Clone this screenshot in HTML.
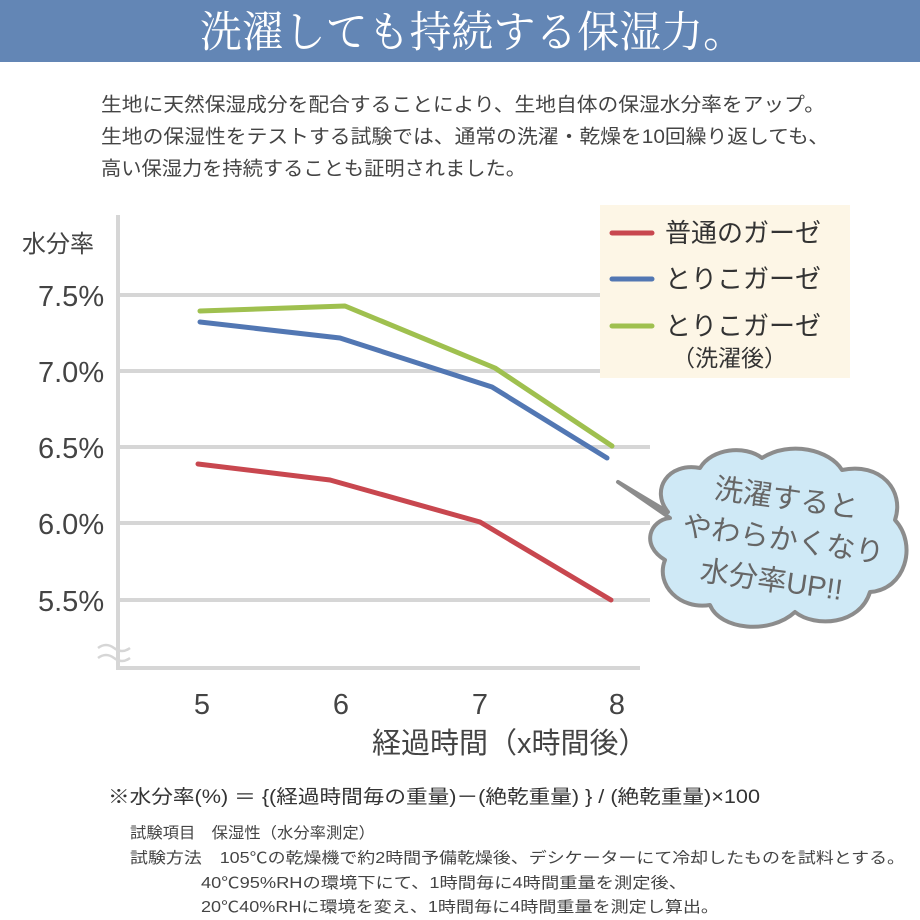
<!DOCTYPE html>
<html><head><meta charset="utf-8"><style>
body{margin:0;background:#fff;}
svg{display:block;font-family:"Liberation Sans","Noto Sans CJK JP",sans-serif;}
</style></head><body>
<svg width="920" height="920" viewBox="0 0 920 920" xmlns="http://www.w3.org/2000/svg">
<rect x="0" y="0" width="920" height="62" fill="#6386b5"/>
<text x="200" y="47" textLength="545" lengthAdjust="spacingAndGlyphs" font-family="'Liberation Serif','Noto Serif CJK SC',serif" font-size="43" fill="#fff">洗濯しても持続する保湿力。</text>
<g font-size="19.5" fill="#444">
<text x="101" y="111" textLength="724" lengthAdjust="spacingAndGlyphs">生地に天然保湿成分を配合することにより、生地自体の保湿水分率をアップ。</text>
<text x="101" y="143" textLength="728" lengthAdjust="spacingAndGlyphs">生地の保湿性をテストする試験では、通常の洗濯・乾燥を10回繰り返しても、</text>
<text x="101" y="175" textLength="425" lengthAdjust="spacingAndGlyphs">高い保湿力を持続することも証明されました。</text>
</g>
<g stroke="#d6d6d6" stroke-width="4" fill="none">
<line x1="118" y1="295" x2="650" y2="295"/>
<line x1="118" y1="371" x2="650" y2="371"/>
<line x1="118" y1="447" x2="650" y2="447"/>
<line x1="118" y1="523" x2="650" y2="523"/>
<line x1="118" y1="600" x2="650" y2="600"/>
<line x1="118" y1="215" x2="118" y2="668"/>
<line x1="116" y1="668" x2="640" y2="668"/>
<path d="M98 648 q8 -6 16 0 t16 0 M98 658 q8 -6 16 0 t16 0" stroke-width="2.5"/>
</g>
<g font-size="29" fill="#444">
<text x="22" y="252" font-size="24">水分率</text>
<text x="38" y="306">7.5%</text>
<text x="38" y="382">7.0%</text>
<text x="38" y="458">6.5%</text>
<text x="38" y="534">6.0%</text>
<text x="38" y="611">5.5%</text>
<text x="202" y="714" text-anchor="middle">5</text>
<text x="341" y="714" text-anchor="middle">6</text>
<text x="480" y="714" text-anchor="middle">7</text>
<text x="617" y="714" text-anchor="middle">8</text>
<text x="372" y="753" font-size="29">経過時間（x時間後）</text>
</g>
<g fill="none" stroke-width="5" stroke-linejoin="round" stroke-linecap="round">
<polyline points="198,464 330,480 480,522 611,600" stroke="#c8474f"/>
<polyline points="200,322 340,338 492,387 607,458" stroke="#5277b3"/>
<polyline points="200,311 345,306 495,368 612,446" stroke="#9fc04f"/>
</g>
<rect x="600" y="205" width="250" height="173" fill="#fdf6e6"/>
<g stroke-width="5" stroke-linecap="round">
<line x1="612" y1="233" x2="652" y2="233" stroke="#c8474f"/>
<line x1="612" y1="279" x2="652" y2="279" stroke="#5277b3"/>
<line x1="612" y1="326" x2="652" y2="326" stroke="#9fc04f"/>
</g>
<g font-size="26" fill="#333">
<text x="665" y="242">普通のガーゼ</text>
<text x="665" y="288">とりこガーゼ</text>
<text x="665" y="335">とりこガーゼ</text>
<text x="672" y="366" font-size="23">（洗濯後）</text>
</g>
<path d="M618 482 L668 512 C650 490 668 462 700 468 C712 448 745 445 762 458 C790 440 830 450 842 470 C880 462 905 490 895 520 C918 545 905 590 870 592 C860 625 815 628 795 612 C770 635 720 630 710 605 C680 610 655 585 665 560 C640 545 650 520 670 518 Z" fill="#cfe9f6" stroke="#8c8c8c" stroke-width="4" stroke-linejoin="round"/>
<g font-size="29" fill="#666" text-anchor="middle">
<text x="785" y="508" transform="rotate(8 785 508)">洗濯すると</text>
<text x="782" y="549" transform="rotate(8 782 549)">やわらかくなり</text>
<text x="770" y="590" transform="rotate(8 770 590)">水分率UP!!</text>
</g>
<text x="108" y="803" font-size="19" fill="#333" textLength="652" lengthAdjust="spacingAndGlyphs">※水分率(%) ＝ {(経過時間毎の重量)－(絶乾重量) } / (絶乾重量)×100</text>
<g font-size="15.5" fill="#444">
<text x="130" y="838" textLength="245" lengthAdjust="spacingAndGlyphs">試験項目　保湿性（水分率測定）</text>
<text x="130" y="863" textLength="775" lengthAdjust="spacingAndGlyphs">試験方法　105℃の乾燥機で約2時間予備乾燥後、デシケーターにて冷却したものを試料とする。</text>
<text x="201" y="888" textLength="486" lengthAdjust="spacingAndGlyphs">40℃95%RHの環境下にて、1時間毎に4時間重量を測定後、</text>
<text x="201" y="912" textLength="518" lengthAdjust="spacingAndGlyphs">20℃40%RHに環境を変え、1時間毎に4時間重量を測定し算出。</text>
</g>
</svg>
</body></html>
